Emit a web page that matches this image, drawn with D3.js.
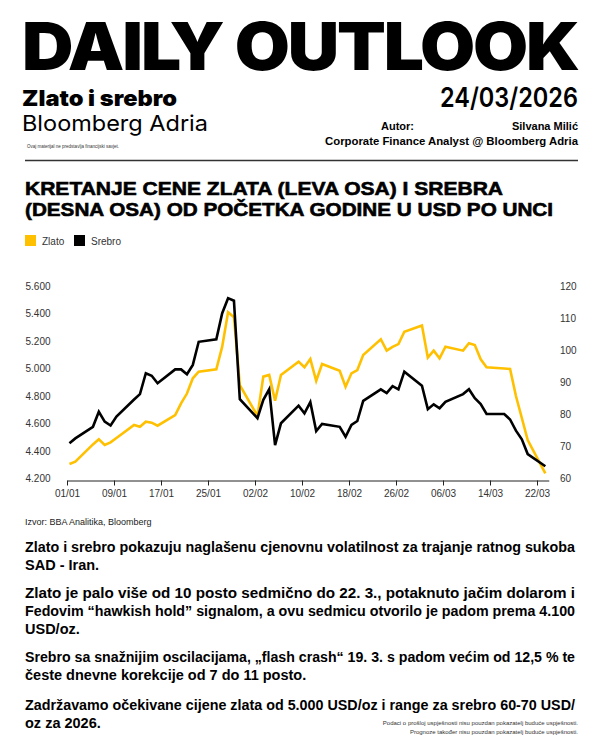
<!DOCTYPE html>
<html>
<head>
<meta charset="utf-8">
<script src="https://cdn.jsdelivr.net/npm/d3@7/dist/d3.min.js"></script>
<style>
  html, body { margin: 0; padding: 0; background: #fff; }
  svg { display: block; }
  text { font-family: "Liberation Sans", Arial, sans-serif; }
</style>
</head>
<body>
<svg id="page" width="600" height="750"></svg>
<script>
// ---------------- DATA ----------------
const dates = [
  "2026-01-01","2026-01-02","2026-01-05","2026-01-06","2026-01-07","2026-01-08","2026-01-09",
  "2026-01-12","2026-01-13","2026-01-14","2026-01-15","2026-01-16",
  "2026-01-19","2026-01-20","2026-01-21","2026-01-22","2026-01-23",
  "2026-01-26","2026-01-27","2026-01-28","2026-01-29","2026-01-30",
  "2026-02-02","2026-02-03","2026-02-04","2026-02-05","2026-02-06",
  "2026-02-09","2026-02-10","2026-02-11","2026-02-12","2026-02-13",
  "2026-02-16","2026-02-17","2026-02-18","2026-02-19","2026-02-20",
  "2026-02-23","2026-02-24","2026-02-25","2026-02-26","2026-02-27",
  "2026-03-02","2026-03-03","2026-03-04","2026-03-05","2026-03-06",
  "2026-03-09","2026-03-10","2026-03-11","2026-03-12","2026-03-13",
  "2026-03-16","2026-03-17","2026-03-18","2026-03-19","2026-03-20",
  "2026-03-23"
];
const gold = [
  4308,4324,4450,4487,4446,4465,4497,
  4591,4579,4615,4608,4586,
  4664,4749,4820,4931,4979,
  4996,5161,5411,5375,4882,
  4657,4943,4955,4768,4955,
  5052,5011,5071,4913,5035,
  4986,4870,4967,4991,5100,
  5215,5132,5159,5180,5270,
  5315,5082,5132,5076,5161,
  5132,5186,5173,5069,5011,
  5002,4999,4802,4642,4482,
  4240
];
const silver = [
  71.1,72.6,76.2,80.9,77.8,76.6,79.4,
  84.7,86.4,92.9,92.1,89.8,
  94.1,94.1,92.6,95.5,102.7,
  103.5,111.6,116.3,115.5,84.8,
  78.9,84.6,87.9,70.5,77.3,
  82.8,80.4,83.9,74.9,77.1,
  76.2,73.1,76.8,78.0,84.3,
  87.9,86.7,88.9,87.9,93.4,
  89.0,81.7,83.2,82.0,84.0,
  86.4,87.9,85.1,83.3,80.2,
  80.2,78.5,75.0,72.3,67.7,
  63.9
];
const seriesNames = ["Zlato", "Srebro"];
const seriesColors = ["#FFC000", "#000000"];
const xTickDates = ["2026-01-01","2026-01-09","2026-01-17","2026-01-25","2026-02-02","2026-02-10",
                    "2026-02-18","2026-02-26","2026-03-06","2026-03-14","2026-03-22"];
const leftTicks = [4200,4400,4600,4800,5000,5200,5400,5600];
const rightTicks = [60,70,80,90,100,110,120];
const dataHour = 10; // price snapshot time of day

// ---------------- SETUP ----------------
const svg = d3.select("#page");
const parse = d3.timeParse("%Y-%m-%d");
const locale = d3.formatLocale({decimal: ",", thousands: ".", grouping: [3], currency: ["", ""]});
const fmtThousands = locale.format(",");
const fmtTick = d3.timeFormat("%d/%m");

// ---------------- HEADER ----------------
svg.append("text").attr("x", 22).attr("y", 70)
  .attr("textLength", 556).attr("lengthAdjust", "spacingAndGlyphs")
  .style("font-family", "Inter, 'Liberation Sans', sans-serif")
  .style("font-weight", 900).style("font-size", "66px").style("letter-spacing", "-2px")
  .attr("fill", "#000").text("DAILY OUTLOOK");

svg.append("text").attr("x", 22).attr("y", 106)
  .attr("textLength", 155).attr("lengthAdjust", "spacingAndGlyphs")
  .style("font-family", "Inter, 'Liberation Sans', sans-serif")
  .style("font-weight", 900).style("font-size", "22px").text("Zlato i srebro");
svg.append("text").attr("x", 22).attr("y", 131)
  .attr("textLength", 186).attr("lengthAdjust", "spacingAndGlyphs")
  .style("font-family", "Inter, 'Liberation Sans', sans-serif")
  .style("font-weight", 400).style("font-size", "22px").text("Bloomberg Adria");
svg.append("text").attr("x", 27).attr("y", 148)
  .attr("textLength", 92).attr("lengthAdjust", "spacingAndGlyphs")
  .style("font-size", "5px").attr("fill", "#333")
  .text("Ovaj materijal ne predstavlja financijski savjet.");

svg.append("text").attr("x", 578).attr("y", 107).attr("text-anchor", "end")
  .attr("textLength", 138).attr("lengthAdjust", "spacingAndGlyphs")
  .style("font-family", "Inter, 'Liberation Sans', sans-serif")
  .style("font-weight", 600).style("font-size", "27px").text("24/03/2026");
svg.append("text").attr("x", 381).attr("y", 130)
  .style("font-weight", 700).style("font-size", "11px").text("Autor:");
svg.append("text").attr("x", 578).attr("y", 130).attr("text-anchor", "end")
  .style("font-weight", 700).style("font-size", "11px").text("Silvana Milić");
svg.append("text").attr("x", 578).attr("y", 145).attr("text-anchor", "end")
  .attr("textLength", 253).attr("lengthAdjust", "spacingAndGlyphs")
  .style("font-weight", 700).style("font-size", "11px")
  .text("Corporate Finance Analyst @ Bloomberg Adria");

svg.append("line").attr("x1", 25).attr("x2", 578).attr("y1", 160.5).attr("y2", 160.5)
  .attr("stroke", "#333").attr("stroke-width", 1.5);

// ---------------- CHART TITLE ----------------
const titleLines = ["KRETANJE CENE ZLATA (LEVA OSA) I SREBRA", "(DESNA OSA) OD POČETKA GODINE U USD PO UNCI"];
const titleWidths = [478, 528];
const titleY = [194.5, 216];
titleLines.forEach((t, i) => {
  svg.append("text").attr("x", 25).attr("y", titleY[i])
    .attr("textLength", titleWidths[i]).attr("lengthAdjust", "spacingAndGlyphs")
    .style("font-weight", 700).style("font-size", "19px").attr("fill", "#000")
    .attr("stroke", "#000").attr("stroke-width", 0.6)
    .text(t);
});

const legend = svg.append("g");
const legendX = [25, 74];
seriesNames.forEach((n, i) => {
  legend.append("rect").attr("x", legendX[i]).attr("y", 235).attr("width", 11).attr("height", 11)
    .attr("fill", seriesColors[i]);
  legend.append("text").attr("x", legendX[i] + 17).attr("y", 244.5)
    .style("font-size", "10px").attr("fill", "#333").text(n);
});

// ---------------- CHART ----------------
const x = d3.scaleTime()
  .domain([parse("2026-01-01"), parse("2026-03-24")])
  .range([67, 548.75]);
const yL = d3.scaleLinear().domain([4200, 5600]).range([478.8, 286.3]);
const yR = d3.scaleLinear().domain([60, 120]).range([478.8, 286.3]);

const pts = dates.map((d, i) => ({
  t: d3.timeHour.offset(parse(d), dataHour),
  g: gold[i],
  s: silver[i]
}));

// left axis labels
svg.append("g").selectAll("text").data(leftTicks).join("text")
  .attr("x", 25.5).attr("y", d => yL(d) + 3.5)
  .style("font-size", "10px").attr("fill", "#333")
  .text(d => fmtThousands(d));
// right axis labels
svg.append("g").selectAll("text").data(rightTicks).join("text")
  .attr("x", 560).attr("y", d => yR(d) + 3.5)
  .style("font-size", "10px").attr("fill", "#333")
  .text(d => d);

// x axis
const xAxis = d3.axisBottom(x)
  .tickValues(xTickDates.map(parse))
  .tickFormat(fmtTick)
  .tickSize(5).tickSizeOuter(0);
const gx = svg.append("g").attr("transform", "translate(0,480.5)").call(xAxis);
gx.select(".domain").attr("stroke", "#222").attr("stroke-width", 1);
gx.selectAll(".tick line").attr("stroke", "#222");
gx.selectAll(".tick text").attr("y", 9)
  .style("font-family", "'Liberation Sans', Arial, sans-serif")
  .style("font-size", "10px").attr("fill", "#333");

// lines
const lineGold = d3.line().x(d => x(d.t)).y(d => yL(d.g));
const lineSilver = d3.line().x(d => x(d.t)).y(d => yR(d.s));
svg.append("path").datum(pts).attr("d", lineGold)
  .attr("fill", "none").attr("stroke", seriesColors[0]).attr("stroke-width", 2.6)
  .attr("stroke-linejoin", "miter");
svg.append("path").datum(pts).attr("d", lineSilver)
  .attr("fill", "none").attr("stroke", seriesColors[1]).attr("stroke-width", 2.6)
  .attr("stroke-linejoin", "miter");

// source
svg.append("text").attr("x", 25).attr("y", 525)
  .style("font-size", "9px").attr("fill", "#222")
  .text("Izvor: BBA Analitika, Bloomberg");

// ---------------- BODY TEXT ----------------
const bodyLines = [
  {t: "Zlato i srebro pokazuju naglašenu cjenovnu volatilnost za trajanje ratnog sukoba", y: 552, w: 550},
  {t: "SAD - Iran.", y: 570, w: null},
  {t: "Zlato je palo više od 10 posto sedmično do 22. 3., potaknuto jačim dolarom i", y: 598, w: 550},
  {t: "Fedovim “hawkish hold” signalom, a ovu sedmicu otvorilo je padom prema 4.100", y: 616, w: 550},
  {t: "USD/oz.", y: 634, w: null},
  {t: "Srebro sa snažnijim oscilacijama, „flash crash“ 19. 3. s padom većim od 12,5 % te", y: 662, w: 550},
  {t: "česte dnevne korekcije od 7 do 11 posto.", y: 680, w: null},
  {t: "Zadržavamo očekivane cijene zlata od 5.000 USD/oz i range za srebro 60-70 USD/", y: 710, w: 550},
  {t: "oz za 2026.", y: 728, w: null}
];
bodyLines.forEach(l => {
  const tx = svg.append("text").attr("x", 25).attr("y", l.y)
    .style("font-weight", 700).style("font-size", "14.5px").attr("fill", "#000")
    .text(l.t);
  if (l.w) tx.attr("textLength", l.w).attr("lengthAdjust", "spacingAndGlyphs");
});

// footnote
["Podaci o prošloj uspješnosti nisu pouzdan pokazatelj buduće uspješnosti.",
 "Prognoze također nisu pouzdan pokazatelj buduće uspješnosti."].forEach((t, i) => {
  svg.append("text").attr("x", 578).attr("y", 725 + i * 9).attr("text-anchor", "end")
    .style("font-size", "6px").attr("fill", "#333").text(t);
});
</script>
</body>
</html>
